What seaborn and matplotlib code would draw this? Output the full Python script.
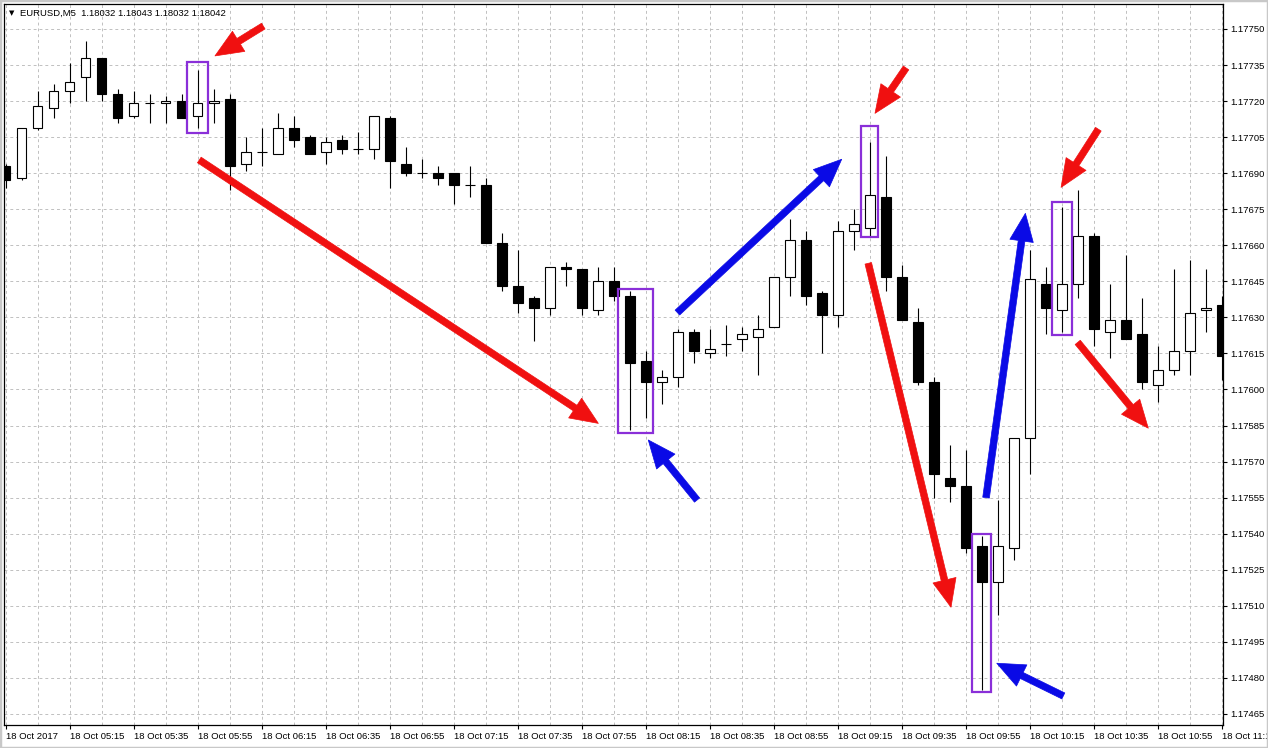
import numpy as np
import matplotlib
matplotlib.use("Agg")
import matplotlib.pyplot as plt
from matplotlib.patches import Rectangle
import seaborn as sns

# EURUSD M5 candles, 18 Oct 2017 04:55 .. 11:15 (one bar per 5 minutes)
open_ = [1.17693, 1.17688, 1.17709, 1.17717, 1.17724, 1.17730, 1.17738, 1.17723, 1.17714, 1.17719,
         1.17719, 1.17720, 1.17714, 1.17719, 1.17721, 1.17694, 1.17699, 1.17698, 1.17709, 1.17705,
         1.17699, 1.17704, 1.17700, 1.17700, 1.17713, 1.17694, 1.17690, 1.17690, 1.17690, 1.17685,
         1.17685, 1.17661, 1.17643, 1.17638, 1.17634, 1.17651, 1.17650, 1.17633, 1.17645, 1.17639,
         1.17612, 1.17603, 1.17605, 1.17624, 1.17615, 1.17619, 1.17621, 1.17622, 1.17626, 1.17647,
         1.17662, 1.17640, 1.17631, 1.17666, 1.17667, 1.17680, 1.17647, 1.17628, 1.17603, 1.17563,
         1.17560, 1.17535, 1.17520, 1.17534, 1.17580, 1.17644, 1.17633, 1.17644, 1.17664, 1.17624,
         1.17629, 1.17623, 1.17602, 1.17608, 1.17616, 1.17633, 1.17635]
high = [1.17694, 1.17709, 1.17724, 1.17727, 1.17736, 1.17745, 1.17738, 1.17725, 1.17724, 1.17723,
        1.17722, 1.17723, 1.17733, 1.17725, 1.17723, 1.17705, 1.17709, 1.17715, 1.17714, 1.17706,
        1.17705, 1.17706, 1.17707, 1.17714, 1.17714, 1.17701, 1.17696, 1.17693, 1.17690, 1.17693,
        1.17688, 1.17665, 1.17658, 1.17639, 1.17651, 1.17653, 1.17650, 1.17651, 1.17651, 1.17641,
        1.17616, 1.17608, 1.17625, 1.17625, 1.17625, 1.17627, 1.17626, 1.17631, 1.17647, 1.17671,
        1.17666, 1.17641, 1.17670, 1.17675, 1.17703, 1.17697, 1.17652, 1.17634, 1.17605, 1.17577,
        1.17575, 1.17539, 1.17554, 1.17580, 1.17658, 1.17651, 1.17676, 1.17683, 1.17665, 1.17644,
        1.17656, 1.17638, 1.17618, 1.17650, 1.17654, 1.17650, 1.17639]
low = [1.17684, 1.17687, 1.17708, 1.17713, 1.17719, 1.17720, 1.17720, 1.17711, 1.17713, 1.17711,
       1.17711, 1.17713, 1.17709, 1.17711, 1.17683, 1.17691, 1.17693, 1.17698, 1.17701, 1.17698,
       1.17694, 1.17698, 1.17698, 1.17696, 1.17684, 1.17689, 1.17688, 1.17685, 1.17677, 1.17680,
       1.17661, 1.17641, 1.17632, 1.17620, 1.17631, 1.17643, 1.17631, 1.17631, 1.17637, 1.17583,
       1.17588, 1.17594, 1.17601, 1.17611, 1.17613, 1.17614, 1.17616, 1.17606, 1.17626, 1.17639,
       1.17635, 1.17615, 1.17626, 1.17658, 1.17664, 1.17641, 1.17629, 1.17602, 1.17555, 1.17553,
       1.17532, 1.17475, 1.17506, 1.17529, 1.17565, 1.17623, 1.17624, 1.17638, 1.17618, 1.17613,
       1.17621, 1.17600, 1.17595, 1.17606, 1.17606, 1.17624, 1.17604]
close = [1.17687, 1.17709, 1.17718, 1.17724, 1.17728, 1.17738, 1.17723, 1.17713, 1.17719, 1.17719,
         1.17720, 1.17713, 1.17719, 1.17720, 1.17693, 1.17699, 1.17699, 1.17709, 1.17704, 1.17698,
         1.17703, 1.17700, 1.17700, 1.17714, 1.17695, 1.17690, 1.17690, 1.17688, 1.17685, 1.17685,
         1.17661, 1.17643, 1.17636, 1.17634, 1.17651, 1.17650, 1.17634, 1.17645, 1.17639, 1.17611,
         1.17603, 1.17605, 1.17624, 1.17616, 1.17617, 1.17619, 1.17623, 1.17625, 1.17647, 1.17662,
         1.17639, 1.17631, 1.17666, 1.17669, 1.17681, 1.17647, 1.17629, 1.17603, 1.17565, 1.17560,
         1.17534, 1.17520, 1.17535, 1.17580, 1.17646, 1.17634, 1.17644, 1.17664, 1.17625, 1.17629,
         1.17621, 1.17603, 1.17608, 1.17616, 1.17632, 1.17634, 1.17614]

time_labels = ["18 Oct 2017", "18 Oct 05:15", "18 Oct 05:35", "18 Oct 05:55", "18 Oct 06:15",
               "18 Oct 06:35", "18 Oct 06:55", "18 Oct 07:15", "18 Oct 07:35", "18 Oct 07:55",
               "18 Oct 08:15", "18 Oct 08:35", "18 Oct 08:55", "18 Oct 09:15", "18 Oct 09:35",
               "18 Oct 09:55", "18 Oct 10:15", "18 Oct 10:35", "18 Oct 10:55", "18 Oct 11:15"]
price_labels = ["1.17465", "1.17480", "1.17495", "1.17510", "1.17525", "1.17540", "1.17555",
                "1.17570", "1.17585", "1.17600", "1.17615", "1.17630", "1.17645", "1.17660",
                "1.17675", "1.17690", "1.17705", "1.17720", "1.17735", "1.17750"]

header = "EURUSD,M5  1.18032 1.18043 1.18032 1.18042"

# marked candles: (bar from, bar to, price low, price high)
boxes = [(11.31, 12.66, 1.177066, 1.177364),
         (38.25, 40.48, 1.175820, 1.176418),
         (53.44, 54.54, 1.176636, 1.177098),
         (60.38, 61.58, 1.174741, 1.175399),
         (65.38, 66.66, 1.176227, 1.176781)]

# arrows: (colour, tail bar, tail price, tip bar, tip price)
arrows = [("red", 16.1, 1.177512, 13.08, 1.177388),
          ("red", 12.1, 1.176955, 37.04, 1.175859),
          ("blue", 43.21, 1.175540, 40.16, 1.175790),
          ("blue", 41.98, 1.176320, 52.25, 1.176958),
          ("red", 56.27, 1.177338, 54.33, 1.177149),
          ("red", 53.91, 1.176525, 59.08, 1.175094),
          ("blue", 61.27, 1.175550, 63.73, 1.176733),
          ("blue", 66.1, 1.174725, 61.94, 1.174861),
          ("red", 68.29, 1.177083, 65.96, 1.176841),
          ("red", 67.0, 1.176196, 71.41, 1.175839)]

sns.set_theme(style="white")
plt.rcParams['font.family'] = ['Liberation Sans', 'DejaVu Sans']

fig = plt.figure(figsize=(12.68, 7.48), dpi=100)
ax = fig.add_axes([4 / 1268, 23 / 748, 1219 / 1268, 721 / 748])

o = np.array(open_)
c = np.array(close)
x = np.arange(len(o))

ax.vlines(x, low, high, color="black", lw=0.8, zorder=3)
fills = np.where(c > o, "white", "black")
ax.bar(x, np.abs(c - o), bottom=np.minimum(o, c), width=0.6, color=fills,
       edgecolor="black", linewidth=0.8, zorder=4)

for x0, x1, y0, y1 in boxes:
    ax.add_patch(Rectangle((x0, y0), x1 - x0, y1 - y0, fill=False,
                           edgecolor="#8a2fd8", lw=1.6, zorder=5))

colours = {"red": "#f01010", "blue": "#0a0ae6"}
for col, tx, ty, hx, hy in arrows:
    ax.annotate("", xy=(hx, hy), xytext=(tx, ty),
                arrowprops=dict(arrowstyle="simple,head_length=1.0,head_width=0.85,tail_width=0.24",
                                mutation_scale=20, fc=colours[col], ec=colours[col], lw=0.5,
                                shrinkA=0, shrinkB=0), zorder=6)

ax.set_xlim(-0.106, 76.08)
ax.set_ylim(1.174604, 1.177604)

ax.set_xticks(np.arange(0, len(o), 4))
ax.set_xticklabels(time_labels)
ax.set_xticks(np.arange(2, len(o), 4), minor=True)
for lab in ax.get_xticklabels():
    lab.set_ha("left")
yt = [float(p) for p in price_labels]
ax.set_yticks(yt)
ax.set_yticklabels(price_labels)

ax.yaxis.tick_right()
ax.tick_params(axis="y", right=True, left=False, labelright=True, labelleft=False,
               direction="out", length=3, width=0.8, pad=2, labelsize=6.8, colors="black")
ax.tick_params(axis="x", which="major", bottom=True, direction="out", length=3, width=0.8,
               pad=2, labelsize=6.8, colors="black")
ax.tick_params(axis="x", which="minor", bottom=False, length=0)

ax.grid(True, which="both", color="#c0c0c0", linestyle=(0, (3, 3)), lw=0.7)
ax.set_axisbelow(True)
for s in ax.spines.values():
    s.set_color("black")
    s.set_linewidth(0.9)

fig.text(9 / 1268, 1 - 13 / 748, "\u25bc", fontsize=5, va="center", ha="left",
         family="DejaVu Sans", color="black")
fig.text(20 / 1268, 1 - 13 / 748, header, fontsize=6.8, va="center", ha="left", color="black")

fig.patches.append(Rectangle((0, 0), 1, 1, transform=fig.transFigure, fill=False,
                             edgecolor="#c8c8c8", lw=2.5))

fig.savefig("out.png", dpi=100)
